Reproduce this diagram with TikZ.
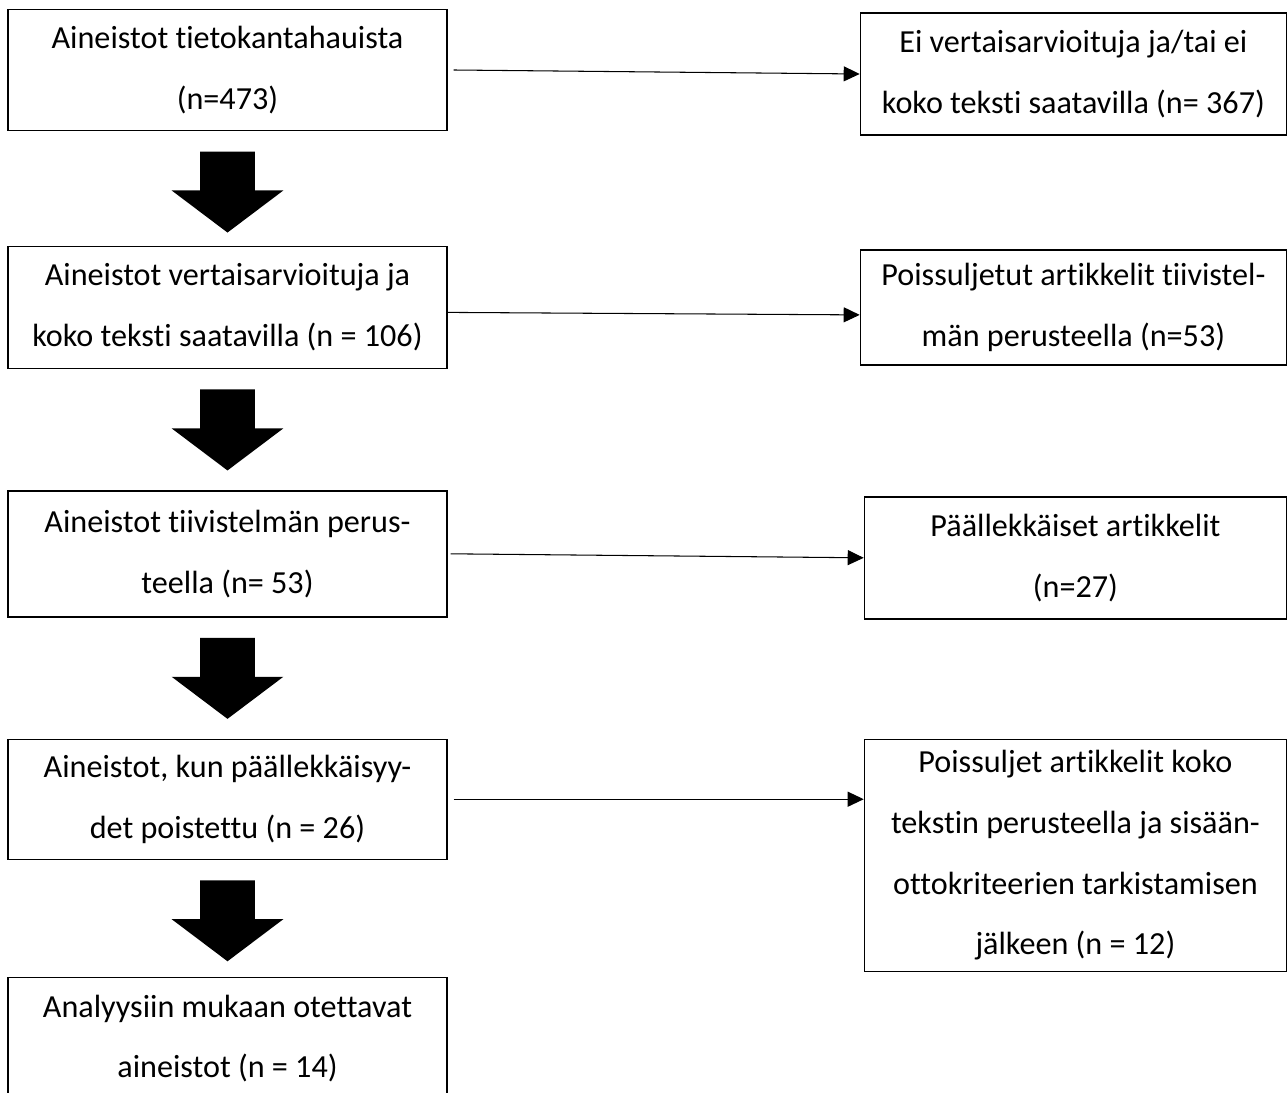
\documentclass[tikz,border=0pt]{standalone}
\usepackage{fontspec}
\setmainfont{Carlito}[Ligatures={NoCommon,NoDiscretionary}]
\usepackage{tikz}
\usetikzlibrary{
  arrows.meta,
  positioning,
  shapes.arrows
}

\begin{document}
\begin{tikzpicture}[
  box/.style={
    draw, line width=0.8pt, minimum width=8.78cm, minimum height=2.44cm,
    align=center, inner sep=0pt, font=\fontsize{18.3}{34.6}\selectfont,
  },
  side/.style={box, minimum width=8.52cm},
  bigarrow/.style={
    single arrow, fill=black, draw=none, rotate=-90,
    minimum height=1.62cm, inner xsep=0pt, inner ysep=0.54cm,
    single arrow head extend=0.57cm, single arrow tip angle=106,
  },
  flow/.style={-{Triangle[length=0.32cm, width=0.3cm]}, line width=0.6pt},
]

\useasboundingbox (0,0) rectangle (25.74,-21.86);
\clip (0,0) rectangle (25.74,-21.86);

% main column
\node[box, minimum height=2.42cm] (b1) at (4.55,-1.40) {Aineistot tietokantahauista\\(n=473)};
\node[box, below=2.29cm of b1] (b2) {Aineistot vertaisarvioituja ja\\koko teksti saatavilla (n = 106)};
\node[box, below=2.42cm of b2, minimum height=2.52cm] (b3) {Aineistot tiivistelmän perus-\\teella (n= 53)};
\node[box, below=2.42cm of b3, minimum height=2.4cm] (b4) {Aineistot, kun päällekkäisyy-\\det poistettu (n = 26)};
\node[box, below=2.34cm of b4] (b5) {Analyysiin mukaan otettavat\\aineistot (n = 14)};

% excluded
\node[side, right=8.24cm of b1, yshift=-0.08cm] (r1) {Ei vertaisarvioituja ja/tai ei\\koko teksti saatavilla (n= 367)};
\node[side, right=8.24cm of b2, minimum height=2.3cm] (r2) {Poissuljetut artikkelit tiivistel-\\män perusteella (n=53)};
\node[side, right=8.32cm of b3, yshift=-0.08cm, minimum width=8.44cm] (r3) {Päällekkäiset artikkelit\\(n=27)};
\node[side, right=8.32cm of b4.north east, anchor=north west, minimum width=8.44cm, minimum height=4.64cm] (r4) {Poissuljet artikkelit koko\\tekstin perusteella ja sisään-\\ottokriteerien tarkistamisen\\jälkeen (n = 12)};

% block arrows
\node[bigarrow, below=0.4cm of b1, anchor=tail] (d1) {};
\node[bigarrow, below=0.4cm of b2, anchor=tail] (d2) {};
\node[bigarrow, below=0.4cm of b3, anchor=tail] (d3) {};
\node[bigarrow, below=0.4cm of b4, anchor=tail] (d4) {};

\draw[flow] ([xshift=0.12cm]b1.east) -- (r1.west);
\draw[flow] ([yshift=-0.1cm]b2.east) -- ([yshift=-0.15cm]r2.west);
\draw[flow] ([xshift=0.06cm]b3.east) -- (r3.west);
\draw[flow] ([xshift=0.12cm]b4.east) -- (b4.east -| r4.west);

\end{tikzpicture}
\end{document}
